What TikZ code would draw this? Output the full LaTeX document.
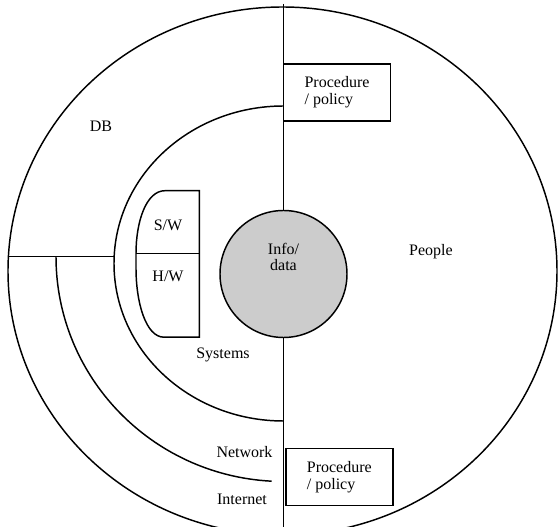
\documentclass[tikz,border=0pt]{standalone}
\usepackage{fontspec}
\setmainfont{Liberation Serif}
\definecolor{infogray}{RGB}{204,204,204}
\tikzset{every picture/.style={line width=1.1pt}}
\tikzset{
  lbl/.style={inner sep=0pt, font=\fontsize{12}{13}\selectfont, align=center},
  procbox/.style={draw, rectangle, inner sep=0pt, minimum width=80.25pt, minimum height=42.75pt, align=left, font=\fontsize{12}{13}\selectfont},
}
\begin{document}
\begin{tikzpicture}[x=0.75pt,y=0.75pt,yscale=-1,xscale=1]
\useasboundingbox (0,0) rectangle (558,527);

%Shape: Ellipse [outer ring]
\draw (282.5,271) ellipse [x radius=274.5, y radius=264];
%Shape: Arc [systems]
\draw (283.5,421) arc [start angle=90, end angle=270, x radius=169.5, y radius=157.5];
%Shape: Arc [network]
\draw (56,256.7) arc [start angle=180, end angle=93, x radius=227.5, y radius=224.8];
%Straight Lines [DB border]
\draw (8.4,256.7) -- (114.2,256.7);

%Shape: Circle [info]
\node [circle, draw, fill=infogray, minimum size=95.25pt, inner sep=0pt] (info) at (283.5,274) {};
%Straight Lines [divider]
\draw (283.5,4) coordinate (vtop) -- (info.north);
\draw (info.south) -- (283.5,527) coordinate (vbot);

%Shape: S/W and H/W block
\draw (199.3,190.7) -- (165,190.7) .. controls (146,190.7) and (136,222) .. (136,253.4) -- (136,268) .. controls (136,303) and (146,337.2) .. (164,337.2) -- (199.3,337.2) -- cycle;
\draw (136,253.4) -- (199.3,253.4);

% Procedure boxes
\node [procbox] (proctop) at (337,92.5) {Procedure\\/ policy};
\node [procbox] (procbot) at (339.3,477) {Procedure\\/ policy};

% Text Node
\node [lbl] (db) at (101,126) {DB};
\node [lbl] (sw) at (168,225) {S/W};
\node [lbl] (hw) at (168,276) {H/W};
\node [lbl, font=\fontsize{12}{12}\selectfont] (infotxt) at (283.5,257.3) {Info/\\data};
\node [lbl] (people) at (431,251.7) {People};
\node [lbl] (systems) at (223,355) {Systems};
\node [lbl] (network) at (244.5,451.7) {Network};
\node [lbl] (internet) at (242,499.3) {Internet};

\end{tikzpicture}
\end{document}
